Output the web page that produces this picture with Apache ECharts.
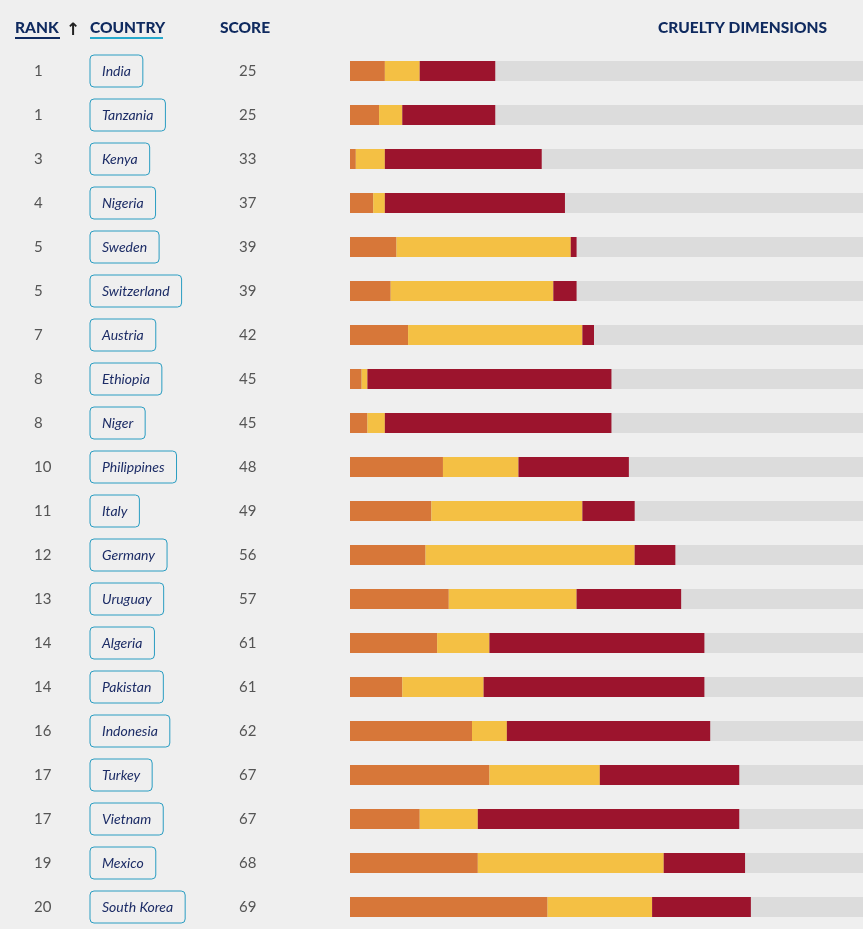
<!DOCTYPE html>
<html><head><meta charset="utf-8">
<script src="https://cdn.jsdelivr.net/npm/echarts@6/dist/echarts.min.js"></script>
<style>html,body{margin:0;padding:0;background:#efefef;}#c{width:863px;height:929px;}</style>
</head><body><div id="c"></div>
<script>
const countries = ['India','Tanzania','Kenya','Nigeria','Sweden','Switzerland','Austria','Ethiopia','Niger','Philippines','Italy','Germany','Uruguay','Algeria','Pakistan','Indonesia','Turkey','Vietnam','Mexico','South Korea'];
const ranks = [1,1,3,4,5,5,7,8,8,10,11,12,13,14,14,16,17,17,19,20];
const scores = [25,25,33,37,39,39,42,45,45,48,49,56,57,61,61,62,67,67,68,69];
const dimA = [6,5,1,4,8,7,10,2,3,16,14,13,17,15,9,21,24,12,22,34];
const dimB = [6,4,5,2,30,28,30,1,3,13,26,36,22,9,14,6,19,10,32,18];
const dimC = [13,16,27,31,1,4,2,42,39,19,9,7,18,37,38,35,24,45,14,17];
const visibleMax = 88.3;

const navy = '#0f2a5f';
const chart = echarts.init(document.getElementById('c'), null, {renderer:'canvas'});
const catAxis = (margin, fmt, labelExtra) => ({
  type:'category', data:countries, inverse:true, position:'left', gridIndex:0,
  axisLine:{show:false}, axisTick:{show:false}, splitLine:{show:false},
  axisLabel: Object.assign({margin:margin, align:'left', formatter:fmt, fontFamily:'Lato', fontSize:15, color:'#555'}, labelExtra||{})
});
chart.setOption({
  backgroundColor:'#efefef',
  animation:false,
  grid:{left:350, top:49, bottom:0, right:0, containLabel:false},
  xAxis:{type:'value', min:0, max:visibleMax, show:false},
  yAxis:[
    catAxis(316, (v,i)=>String(ranks[i]), {padding:[2,0,0,0]}),
    catAxis(260, v=>v, {fontStyle:'italic', color:'#1c2c66', fontSize:14, borderColor:'#2a9dc2', borderWidth:1, borderRadius:4, padding:[10,12,8,12]}),
    catAxis(111, (v,i)=>String(scores[i]), {padding:[2,0,0,0]})
  ],
  graphic:[
    {type:'text', left:15, top:20, style:{text:'RANK', font:'900 15.5px Lato', fill:navy}},
    {type:'rect', left:15, top:37, shape:{width:45, height:2}, style:{fill:navy}},
    {type:'text', left:66, top:22, style:{text:'↑', font:'bold 17px "DejaVu Sans"', fill:'#222'}},
    {type:'text', left:90, top:20, style:{text:'COUNTRY', font:'900 15.5px Lato', fill:navy}},
    {type:'rect', left:90, top:37, shape:{width:73, height:2}, style:{fill:'#27a9cc'}},
    {type:'text', left:220, top:20, style:{text:'SCORE', font:'900 15.5px Lato', fill:navy}},
    {type:'text', left:658, top:20, style:{text:'CRUELTY DIMENSIONS', font:'900 15.5px Lato', fill:navy}}
  ],
  series:[
    {type:'bar', stack:'s', data:dimA, barWidth:20, itemStyle:{color:'#d77739'}, showBackground:true, backgroundStyle:{color:'#dcdcdc'}},
    {type:'bar', stack:'s', data:dimB, barWidth:20, itemStyle:{color:'#f4c044'}},
    {type:'bar', stack:'s', data:dimC, barWidth:20, itemStyle:{color:'#9c142d'}}
  ]
});
</script></body></html>
